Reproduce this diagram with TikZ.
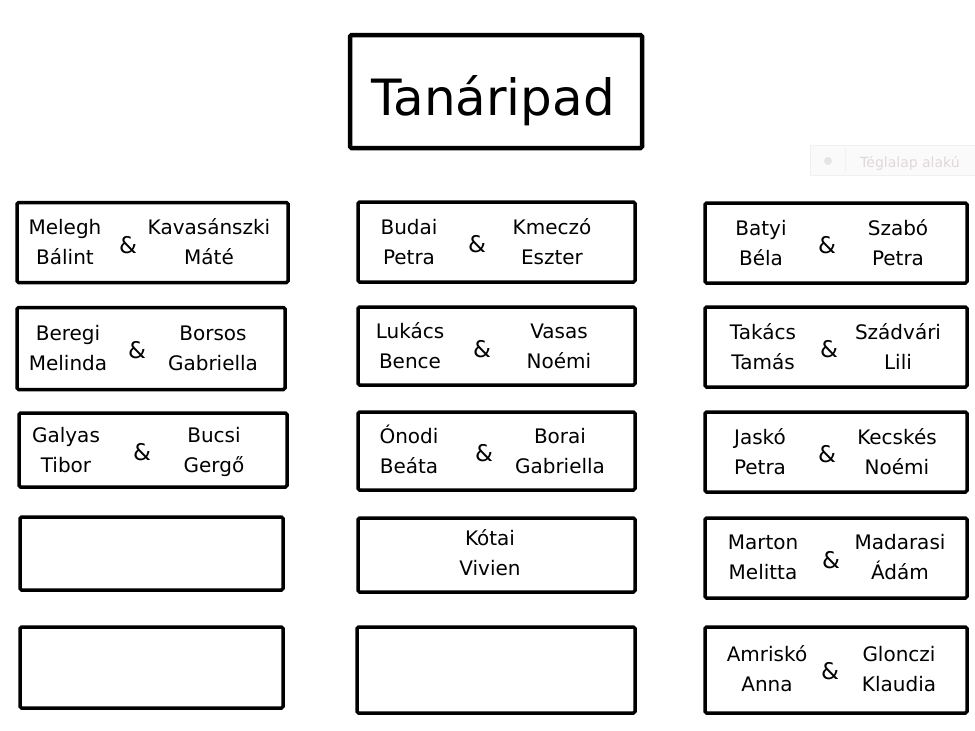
\documentclass[tikz,border=0pt]{standalone}
\usepackage{fontspec}
\setmainfont{DejaVu Sans}
\usepackage{xcolor}
\usetikzlibrary{positioning}

\definecolor{wmark}{RGB}{228,214,216}
\definecolor{wbox}{RGB}{250,250,250}

% two lines of a name, with equal line heights
\newcommand{\ketsor}[2]{\strut #1\\\strut #2}

\tikzset{
  pad/.style={draw, line width=4.5pt, rounded corners=1.5pt, inner sep=0pt},
  seat/.style={draw, line width=3.5pt, rounded corners=1.5pt, inner sep=0pt},
  nev/.style={align=center, inner sep=0pt, font=\fontsize{20}{30}\selectfont},
  es/.style={inner sep=0pt, font=\fontsize{23}{26}\selectfont}
}

\begin{document}
\begin{tikzpicture}[x=1pt,y=-1pt]
  % page
  \fill[white] (0,0) rectangle (975,731);
  \useasboundingbox (0,0) rectangle (975,731);
  \clip (0,0) rectangle (975,731);

  % faint label in the corner
  \draw[wbox!96!black, fill=wbox] (810,145) rectangle (980,175);
  \fill[gray!20] (828,161) circle (4);
  \draw[gray!10] (845,148) -- (845,172);
  \node[anchor=base west, inner sep=0pt, text=wmark, font=\fontsize{14}{16}\selectfont] (cimke) at (860,167) {Téglalap alakú};

  % teacher's desk
  \node[pad, minimum width=292, minimum height=113] (pad) at (496,91.5) {};
  \node[anchor=base, inner sep=0pt, font=\fontsize{50}{56}\selectfont] (cim) at (493,115) {Tanáripad};

  % desks: name/x/y/width/height
  \foreach \n/\x/\y/\w/\h in {
      l1/152.5/242.5/271/80, l2/151/348.5/268/82, l3/153/450/268/74,
      l4/151.5/553.5/263/73, l5/151.5/667.5/263/81,
      m1/496.5/242/277/80, m2/496.5/346/277/78, m3/496.5/451/277/78,
      m4/496.5/555/277/74, m5/496/670/278/86,
      r1/836/243/262/80, r2/836/347/262/80, r3/836/452/262/80,
      r4/836/558/262/80, r5/836/670/262/86}
    \node[seat, minimum width=\w, minimum height=\h] (\n) at (\x,\y) {};

  % left row
  \node[nev] (l1a) at (65,243.5) {\ketsor{Melegh}{Bálint}};
  \node[es] (l1e) at (128,245) {\&};
  \node[nev] (l1b) at (209,243.5) {\ketsor{Kavasánszki}{Máté}};

  \node[nev] (l2a) at (68,349.5) {\ketsor{Beregi}{Melinda}};
  \node[es] (l2e) at (137,350) {\&};
  \node[nev] (l2b) at (213,349.5) {\ketsor{Borsos}{Gabriella}};

  \node[nev] (l3a) at (66,451) {\ketsor{Galyas}{Tibor}};
  \node[es] (l3e) at (142,452) {\&};
  \node[nev] (l3b) at (214,451) {\ketsor{Bucsi}{Gergő}};

  % middle row
  \node[nev] (m1a) at (409,243) {\ketsor{Budai}{Petra}};
  \node[es] (m1e) at (477,244) {\&};
  \node[nev] (m1b) at (552,243) {\ketsor{Kmeczó}{Eszter}};

  \node[nev] (m2a) at (410,347) {\ketsor{Lukács}{Bence}};
  \node[es] (m2e) at (482,349) {\&};
  \node[nev] (m2b) at (559,347) {\ketsor{Vasas}{Noémi}};

  \node[nev] (m3a) at (409,452) {\ketsor{Ónodi}{Beáta}};
  \node[es] (m3e) at (484,453) {\&};
  \node[nev] (m3b) at (560,452) {\ketsor{Borai}{Gabriella}};

  \node[nev] (m4a) at (490,554) {\ketsor{Kótai}{Vivien}};

  % right row
  \node[nev] (r1a) at (761,244) {\ketsor{Batyi}{Béla}};
  \node[es] (r1e) at (827,245) {\&};
  \node[nev] (r1b) at (898,244) {\ketsor{Szabó}{Petra}};

  \node[nev] (r2a) at (763,348) {\ketsor{Takács}{Tamás}};
  \node[es] (r2e) at (829,349) {\&};
  \node[nev] (r2b) at (898,348) {\ketsor{Szádvári}{Lili}};

  \node[nev] (r3a) at (760,453) {\ketsor{Jaskó}{Petra}};
  \node[es] (r3e) at (827,454) {\&};
  \node[nev] (r3b) at (897,453) {\ketsor{Kecskés}{Noémi}};

  \node[nev] (r4a) at (763,558) {\ketsor{Marton}{Melitta}};
  \node[es] (r4e) at (831,560) {\&};
  \node[nev] (r4b) at (900,558) {\ketsor{Madarasi}{Ádám}};

  \node[nev] (r5a) at (767,670) {\ketsor{Amriskó}{Anna}};
  \node[es] (r5e) at (830,671) {\&};
  \node[nev] (r5b) at (899,670) {\ketsor{Glonczi}{Klaudia}};
\end{tikzpicture}
\end{document}
